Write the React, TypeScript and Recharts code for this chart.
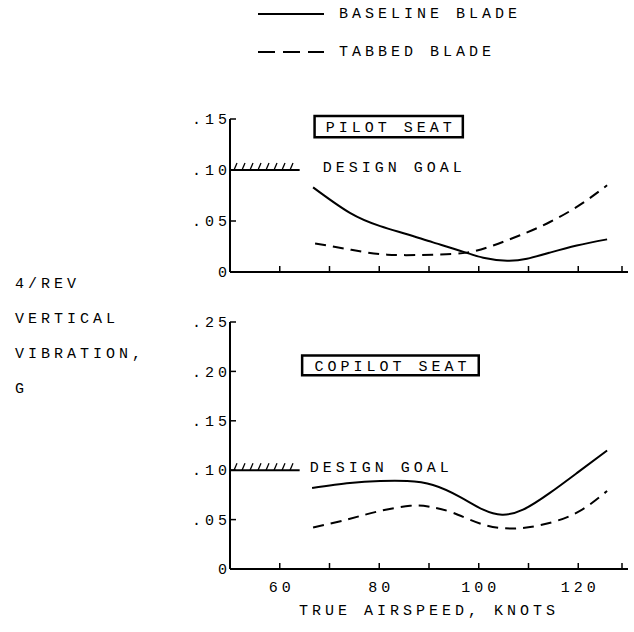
import React from "react";
import { LineChart, Line, XAxis, YAxis, ReferenceArea, Legend } from "recharts";

// airspeed (knots) / 4-per-rev vertical vibration (g)
const pilotBaselineKts = [66.7, 74.1, 80.2, 85.6, 90.8, 96.8, 100.9, 105.7, 109.7, 114.3, 119.7, 125.8];
const pilotBaselineG = [0.083, 0.058, 0.045, 0.037, 0.029, 0.02, 0.014, 0.011, 0.013, 0.019, 0.026, 0.032];
const pilotTabbedKts = [67.1, 74.1, 81.6, 90.8, 97.6, 102.9, 108.3, 114.3, 120.4, 125.8];
const pilotTabbedG = [0.028, 0.022, 0.017, 0.017, 0.019, 0.026, 0.036, 0.049, 0.066, 0.085];

const copilotBaselineKts = [66.5, 74.1, 80.2, 85.6, 90.8, 96.2, 100.9, 104.7, 108.9, 114.3, 119.7, 125.8];
const copilotBaselineG = [0.082, 0.087, 0.089, 0.089, 0.085, 0.073, 0.06, 0.055, 0.06, 0.077, 0.097, 0.12];
const copilotTabbedKts = [66.7, 73.5, 79.5, 86.2, 90.2, 94.8, 100.9, 106.9, 112.9, 119.7, 125.8];
const copilotTabbedG = [0.042, 0.05, 0.058, 0.064, 0.063, 0.057, 0.045, 0.041, 0.045, 0.057, 0.079];

const designGoal = 0.1;
const designGoalEndKts = 64;

const speedTicks = [60, 70, 80, 90, 100, 110, 120, 130];
const labeledSpeeds = [60, 80, 100, 120];
const pilotTicks = [0, 0.05, 0.1, 0.15];
const copilotTicks = [0, 0.05, 0.1, 0.15, 0.2, 0.25];

const seriesNames = ["BASELINE BLADE", "TABBED BLADE"];
const yLabelLines = ["4/REV", "VERTICAL", "VIBRATION,", "G"];

const zip = (xs: number[], ys: number[]) => xs.map((kts, i) => ({ kts, g: ys[i] }));

const FONT = "'Liberation Mono', 'DejaVu Sans Mono', monospace";
const DASH = "11 7";

const fmtG = (v: number) => (v === 0 ? "0" : "." + Math.round(v * 100).toString().padStart(2, "0"));

const YTick = (props: any) => {
  const { x, y, payload } = props;
  return (
    <g>
      <line x1={x} x2={x + 6} y1={y} y2={y} stroke="#000" strokeWidth={1.5} />
      <text x={x + 1} y={y} dy="0.35em" textAnchor="end" fill="#000">
        {fmtG(payload.value)}
      </text>
    </g>
  );
};

const makeXTick = (showLabels: boolean) => (props: any) => {
  const { x, y, payload } = props;
  return (
    <g>
      <line x1={x} x2={x} y1={y} y2={y - 6} stroke="#000" strokeWidth={1.5} />
      {showLabels && labeledSpeeds.includes(payload.value) && (
        <text x={x + 2} y={y + 23} textAnchor="middle" fill="#000">
          {payload.value}
        </text>
      )}
    </g>
  );
};

// goal line with hatching on top
const HatchShape = (props: any) => {
  const { x, y, width, height } = props;
  const base = y + height;
  const marks: React.ReactNode[] = [];
  for (let hx = x + 4; hx < x + width - 3; hx += 8) {
    marks.push(<line key={hx} x1={hx} y1={base} x2={hx + 3} y2={base - 7} stroke="#000" strokeWidth={1.3} />);
  }
  return (
    <g>
      <line x1={x} x2={x + width} y1={base} y2={base} stroke="#000" strokeWidth={2} />
      {marks}
    </g>
  );
};

const LegendContent = (props: any) => {
  const items = props.payload || [];
  return (
    <div>
      {items.map((e: any, i: number) => (
        <div key={e.value} style={{ display: "flex", alignItems: "center", height: 28, marginTop: i ? 10 : 0 }}>
          <svg width={66} height={4}>
            <line x1={0} x2={66} y1={2} y2={2} stroke="#000" strokeWidth={2} strokeDasharray={e.value === seriesNames[1] ? "17 8" : undefined} />
          </svg>
          <span style={{ marginLeft: 15 }}>{e.value}</span>
        </div>
      ))}
    </div>
  );
};

const labelStyle = { fill: "#000", fontSize: 15, fontFamily: FONT, letterSpacing: 4 };

export default function App() {
  return (
    <div
      style={{
        position: "absolute",
        left: 0,
        top: 0,
        width: 634,
        height: 632,
        background: "#fff",
        fontFamily: FONT,
        fontSize: 15,
        letterSpacing: 4,
        color: "#000",
      }}
    >
      <div style={{ position: "absolute", left: 15, top: 267, lineHeight: "35px" }}>
        {yLabelLines.map((t) => (
          <div key={t}>{t}</div>
        ))}
      </div>

      <div style={{ position: "absolute", left: 0, top: 0 }}>
        <LineChart width={634} height={290} margin={{ top: 119, right: 6, left: 200, bottom: 8 }}>
          <XAxis
            type="number"
            dataKey="kts"
            domain={[50, 130]}
            ticks={speedTicks}
            height={10}
            allowDataOverflow
            axisLine={{ stroke: "#000", strokeWidth: 2 }}
            tickLine={false}
            tickSize={0}
            tickMargin={0}
            tick={makeXTick(false)}
          />
          <YAxis
            type="number"
            domain={[0, 0.15]}
            ticks={pilotTicks}
            width={30}
            axisLine={{ stroke: "#000", strokeWidth: 2 }}
            tickLine={false}
            tickSize={0}
            tickMargin={0}
            tick={YTick}
          />
          <Legend
            layout="horizontal"
            verticalAlign="middle"
            align="center"
            wrapperStyle={{ top: 0, left: 258, width: 320 }}
            content={LegendContent}
          />
          <ReferenceArea
            x1={67}
            x2={96.8}
            y1={0.132}
            y2={0.153}
            ifOverflow="visible"
            fill="none"
            stroke="#000"
            strokeWidth={2.5}
            label={{ value: "PILOT SEAT", position: "center", dx: 2, ...labelStyle }}
          />
          <ReferenceArea
            x1={50}
            x2={designGoalEndKts}
            y1={designGoal}
            y2={designGoal + 0.007}
            ifOverflow="visible"
            shape={HatchShape}
            label={{ value: "DESIGN GOAL", position: "right", offset: 23, ...labelStyle }}
          />
          <Line
            data={zip(pilotBaselineKts, pilotBaselineG)}
            dataKey="g"
            name={seriesNames[0]}
            type="natural"
            stroke="#000"
            strokeWidth={2}
            dot={false}
            isAnimationActive={false}
          />
          <Line
            data={zip(pilotTabbedKts, pilotTabbedG)}
            dataKey="g"
            name={seriesNames[1]}
            type="natural"
            stroke="#000"
            strokeWidth={2}
            strokeDasharray={DASH}
            dot={false}
            isAnimationActive={false}
          />
        </LineChart>
      </div>

      <div style={{ position: "absolute", left: 0, top: 290 }}>
        <LineChart width={634} height={342} margin={{ top: 32, right: 6, left: 200, bottom: 13 }}>
          <XAxis
            type="number"
            dataKey="kts"
            domain={[50, 130]}
            ticks={speedTicks}
            height={50}
            allowDataOverflow
            axisLine={{ stroke: "#000", strokeWidth: 2 }}
            tickLine={false}
            tickSize={0}
            tickMargin={0}
            tick={makeXTick(true)}
            label={{ value: "TRUE AIRSPEED, KNOTS", position: "insideBottom", offset: 4, ...labelStyle }}
          />
          <YAxis
            type="number"
            domain={[0, 0.25]}
            ticks={copilotTicks}
            width={30}
            axisLine={{ stroke: "#000", strokeWidth: 2 }}
            tickLine={false}
            tickSize={0}
            tickMargin={0}
            tick={YTick}
          />
          <ReferenceArea
            x1={64.5}
            x2={100}
            y1={0.196}
            y2={0.216}
            ifOverflow="visible"
            fill="none"
            stroke="#000"
            strokeWidth={2.5}
            label={{ value: "COPILOT SEAT", position: "center", dx: 2, ...labelStyle }}
          />
          <ReferenceArea
            x1={50}
            x2={designGoalEndKts}
            y1={designGoal}
            y2={designGoal + 0.007}
            ifOverflow="visible"
            shape={HatchShape}
            label={{ value: "DESIGN GOAL", position: "right", offset: 10, ...labelStyle }}
          />
          <Line
            data={zip(copilotBaselineKts, copilotBaselineG)}
            dataKey="g"
            name={seriesNames[0]}
            type="natural"
            stroke="#000"
            strokeWidth={2}
            dot={false}
            isAnimationActive={false}
          />
          <Line
            data={zip(copilotTabbedKts, copilotTabbedG)}
            dataKey="g"
            name={seriesNames[1]}
            type="natural"
            stroke="#000"
            strokeWidth={2}
            strokeDasharray={DASH}
            dot={false}
            isAnimationActive={false}
          />
        </LineChart>
      </div>
    </div>
  );
}
